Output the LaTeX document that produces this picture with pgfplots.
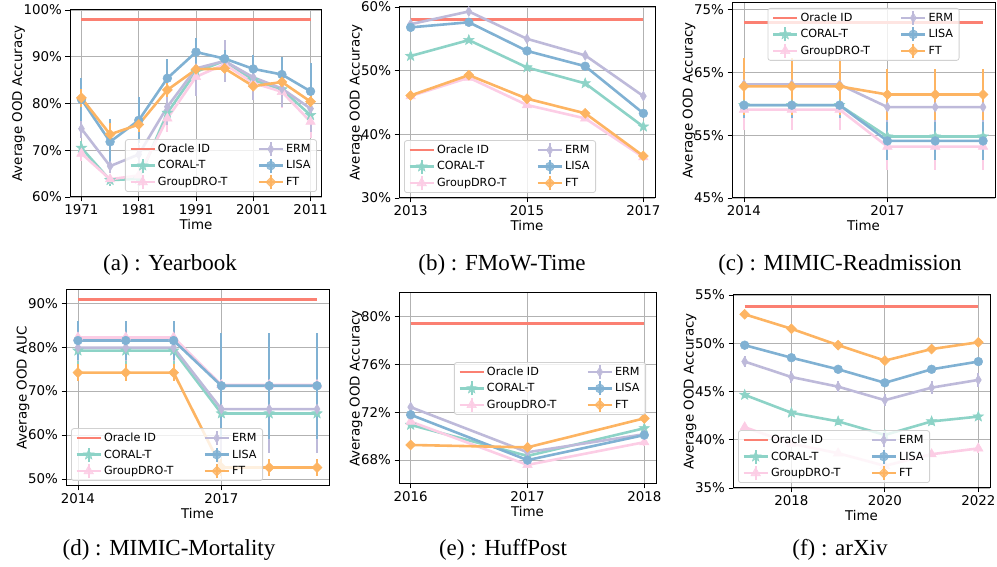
\documentclass[border=0pt]{standalone}
\usepackage{pgfplots}
\pgfplotsset{compat=1.18}
\usepackage{fontspec}
\setmainfont{DejaVu Sans}
\newfontfamily\capfont{Liberation Serif}
\definecolor{cOracle}{HTML}{FB8072}
\definecolor{cCoral}{HTML}{8DD3C7}
\definecolor{cGDRO}{HTML}{FCCDE5}
\definecolor{cERM}{HTML}{BEBADA}
\definecolor{cLISA}{HTML}{80B1D3}
\definecolor{cFT}{HTML}{FDB462}
\newcommand\tickfont{\fontsize{13.4}{16}\selectfont}
\newcommand\legfont{\fontsize{11.2}{13}\selectfont}
\newcommand\capsize{\fontsize{23}{26}\selectfont}
\pgfdeclareplotmark{fstar}{%
  \pgfpathmoveto{\pgfqpointpolar{90}{\pgfplotmarksize}}%
  \pgfpathlineto{\pgfqpointpolar{126}{0.42\pgfplotmarksize}}%
  \pgfpathlineto{\pgfqpointpolar{162}{\pgfplotmarksize}}%
  \pgfpathlineto{\pgfqpointpolar{198}{0.42\pgfplotmarksize}}%
  \pgfpathlineto{\pgfqpointpolar{234}{\pgfplotmarksize}}%
  \pgfpathlineto{\pgfqpointpolar{270}{0.42\pgfplotmarksize}}%
  \pgfpathlineto{\pgfqpointpolar{306}{\pgfplotmarksize}}%
  \pgfpathlineto{\pgfqpointpolar{342}{0.42\pgfplotmarksize}}%
  \pgfpathlineto{\pgfqpointpolar{18}{\pgfplotmarksize}}%
  \pgfpathlineto{\pgfqpointpolar{54}{0.42\pgfplotmarksize}}%
  \pgfpathclose\pgfusepathqfillstroke}
\pgfplotsset{
  errleg/.style={legend image code/.code={
    \draw[##1] (0pt,0pt)--(24pt,0pt);
    \draw[##1, line width=2pt] (12pt,-7pt)--(12pt,7pt);
    \draw[##1, only marks] plot coordinates {(12pt,0pt)};}},
  oracleleg/.style={legend image code/.code={\draw[##1] (0pt,0pt)--(24pt,0pt);}},
  panel/.style={
    scale only axis, anchor=south west,
    axis line style={black, line width=1pt},
    grid=major, major grid style={color=black!30, line width=0.9pt},
    tick align=outside, major tick length=4.5pt, tick style={black, line width=0.9pt},
    tick pos=left,
    ticklabel style={font=\tickfont},
    label style={font=\tickfont},
    xlabel={Time},
    xlabel style={yshift=3pt},
    ylabel shift=-8pt,
    /pgf/number format/1000 sep={},
    /pgf/number format/assume math mode=true,
    yticklabel={\pgfmathprintnumber{\tick}\%},
    legend columns=3, transpose legend, legend cell align=left,
    legend style={font=\legfont, fill=white, fill opacity=0.8, text opacity=1, draw opacity=1,
      draw=black!18, line width=0.8pt, rounded corners=2.5pt, inner xsep=4pt, inner ysep=1.5pt,
      row sep=0.5pt, /tikz/every even column/.append style={column sep=28pt}},
    errleg,
  },
  sOracle/.style={color=cOracle, line width=2.6pt, mark=none, oracleleg},
  sCoral/.style={color=cCoral, line width=2.6pt, mark=fstar, mark size=5.5pt, mark options={solid, fill=cCoral, line width=0.5pt},
    error bars/.cd, y dir=both, y explicit, error mark=none, error bar style={line width=2pt, cCoral}},
  sGDRO/.style={color=cGDRO, line width=2.6pt, mark=triangle*, mark size=5.5pt, mark options={solid, fill=cGDRO, line width=0.5pt},
    error bars/.cd, y dir=both, y explicit, error mark=none, error bar style={line width=2pt, cGDRO}},
  sERM/.style={color=cERM, line width=2.6pt, mark=diamond*, mark size=5pt, mark options={solid, fill=cERM, line width=0.5pt, xscale=0.8},
    error bars/.cd, y dir=both, y explicit, error mark=none, error bar style={line width=2pt, cERM}},
  sLISA/.style={color=cLISA, line width=2.6pt, mark=*, mark size=4.4pt, mark options={solid, fill=cLISA, line width=0.5pt},
    error bars/.cd, y dir=both, y explicit, error mark=none, error bar style={line width=2pt, cLISA}},
  sFT/.style={color=cFT, line width=2.6pt, mark=diamond*, mark size=5pt, mark options={solid, fill=cFT, line width=0.5pt, xscale=1.33},
    error bars/.cd, y dir=both, y explicit, error mark=none, error bar style={line width=2pt, cFT}},
}
\begin{document}
\begin{tikzpicture}[x=1pt,y=1pt]
\useasboundingbox (0,0) rectangle (997,567);
% (a) Yearbook
\begin{axis}[panel, at={(70pt,370pt)}, width=252pt, height=187pt,
  xmin=1969, xmax=2013, ymin=60, ymax=100,
  xtick={1971,1981,1991,2001,2011}, ytick={60,70,80,90,100},
  ylabel={Average OOD Accuracy},
  legend style={at={(1,0)}, anchor=south east, xshift=-5pt, yshift=5pt}]
\addplot[sOracle] coordinates {(1971,98.0) (2011,98.0)};
\addlegendentry{Oracle ID}
\addplot[sCoral] coordinates {(1971,70.5) +- (0,1.5) (1976,63.6) +- (0,1.2) (1981,63.9) +- (0,1.5) (1986,78.0) +- (0,3) (1991,86.8) +- (0,3) (1996,89.1) +- (0,2) (2001,85.0) +- (0,2.5) (2006,83.0) +- (0,2.5) (2011,77.5) +- (0,3)};
\addlegendentry{CORAL-T}
\addplot[sGDRO] coordinates {(1971,69.3) +- (0,1.5) (1976,63.8) +- (0,1.0) (1981,64.6) +- (0,1.5) (1986,76.8) +- (0,3) (1991,85.7) +- (0,4) (1996,88.4) +- (0,3) (2001,84.4) +- (0,3) (2006,82.5) +- (0,3.5) (2011,76.1) +- (0,3.5)};
\addlegendentry{GroupDRO-T}
\addplot[sERM] coordinates {(1971,74.6) +- (0,2) (1976,66.6) +- (0,1.5) (1981,69.1) +- (0,2) (1986,79.3) +- (0,4) (1991,87.5) +- (0,6) (1996,89.1) +- (0,4.5) (2001,85.6) +- (0,4.8) (2006,83.2) +- (0,4) (2011,78.9) +- (0,5)};
\addlegendentry{ERM}
\addplot[sLISA] coordinates {(1971,80.9) +- (0,4.6) (1976,71.8) +- (0,4.8) (1981,76.4) +- (0,4.9) (1986,85.4) +- (0,4.1) (1991,91.0) +- (0,3.1) (1996,89.6) +- (0,1.8) (2001,87.4) +- (0,3.0) (2006,86.2) +- (0,3.8) (2011,82.6) +- (0,6.0)};
\addlegendentry{LISA}
\addplot[sFT] coordinates {(1971,81.2) +- (0,2) (1976,73.4) +- (0,2.5) (1981,75.5) +- (0,1.5) (1986,82.9) +- (0,1.5) (1991,87.3) +- (0,1) (1996,87.5) +- (0,1) (2001,83.7) +- (0,1) (2006,84.6) +- (0,1.5) (2011,80.4) +- (0,1.5)};
\addlegendentry{FT}
\end{axis}
% (b) FMoW-Time
\begin{axis}[panel, at={(399pt,369pt)}, width=256pt, height=191pt,
  xmin=2012.8, xmax=2017.2, ymin=30, ymax=60,
  xtick={2013,2015,2017}, ytick={30,40,50,60},
  ylabel={Average OOD Accuracy},
  legend style={at={(0,0)}, anchor=south west, xshift=5pt, yshift=5pt}]
\addplot[sOracle] coordinates {(2013,58.0) (2017,58.0)};
\addlegendentry{Oracle ID}
\addplot[sCoral] coordinates {(2013,52.3) +- (0,0.2) (2014,54.8) +- (0,0.2) (2015,50.5) +- (0,0.2) (2016,48.0) +- (0,0.2) (2017,41.2) +- (0,0.2)};
\addlegendentry{CORAL-T}
\addplot[sGDRO] coordinates {(2013,46.0) +- (0,0.2) (2014,48.9) +- (0,0.2) (2015,44.6) +- (0,0.2) (2016,42.5) +- (0,0.2) (2017,36.4) +- (0,0.2)};
\addlegendentry{GroupDRO-T}
\addplot[sERM] coordinates {(2013,57.3) +- (0,0.2) (2014,59.3) +- (0,0.2) (2015,55.0) +- (0,0.2) (2016,52.4) +- (0,0.2) (2017,46.0) +- (0,0.2)};
\addlegendentry{ERM}
\addplot[sLISA] coordinates {(2013,56.8) +- (0,0.2) (2014,57.6) +- (0,0.2) (2015,53.1) +- (0,0.2) (2016,50.7) +- (0,0.2) (2017,43.3) +- (0,0.2)};
\addlegendentry{LISA}
\addplot[sFT] coordinates {(2013,46.1) +- (0,0.2) (2014,49.3) +- (0,0.2) (2015,45.6) +- (0,0.2) (2016,43.3) +- (0,0.2) (2017,36.6) +- (0,0.2)};
\addlegendentry{FT}
\end{axis}
% (c) MIMIC-Readmission
\begin{axis}[panel, at={(732pt,369pt)}, width=263pt, height=195pt,
  xmin=2013.75, xmax=2019.25, ymin=45, ymax=76.1,
  xtick={2014,2017}, ytick={45,55,65,75},
  ylabel={Average OOD Accuracy},
  legend style={at={(0.5,1)}, anchor=north, yshift=-5pt}]
\addplot[sOracle] coordinates {(2014,73.0) (2019,73.0)};
\addlegendentry{Oracle ID}
\addplot[sCoral] coordinates {(2014,59.8) +- (0,2) (2015,59.8) +- (0,2) (2016,59.8) +- (0,2) (2017,54.8) +- (0,2) (2018,54.8) +- (0,2) (2019,54.8) +- (0,2)};
\addlegendentry{CORAL-T}
\addplot[sGDRO] coordinates {(2014,59.1) +- (0,3.3) (2015,59.1) +- (0,3.3) (2016,59.1) +- (0,3.3) (2017,53.2) +- (0,3.7) (2018,53.2) +- (0,3.7) (2019,53.2) +- (0,3.7)};
\addlegendentry{GroupDRO-T}
\addplot[sERM] coordinates {(2014,63.1) +- (0,3) (2015,63.1) +- (0,3) (2016,63.1) +- (0,3) (2017,59.5) +- (0,3.2) (2018,59.5) +- (0,3.2) (2019,59.5) +- (0,3.2)};
\addlegendentry{ERM}
\addplot[sLISA] coordinates {(2014,59.8) +- (0,2) (2015,59.8) +- (0,2) (2016,59.8) +- (0,2) (2017,54.1) +- (0,3) (2018,54.1) +- (0,3) (2019,54.1) +- (0,3)};
\addlegendentry{LISA}
\addplot[sFT] coordinates {(2014,62.8) +- (0,4.6) (2015,62.8) +- (0,4.6) (2016,62.8) +- (0,4.6) (2017,61.5) +- (0,4.0) (2018,61.5) +- (0,4.0) (2019,61.5) +- (0,4.0)};
\addlegendentry{FT}
\end{axis}
% (d) MIMIC-Mortality
\begin{axis}[panel, at={(66pt,81pt)}, width=263pt, height=196pt,
  xmin=2013.75, xmax=2019.25, ymin=48.4, ymax=93,
  xtick={2014,2017}, ytick={50,60,70,80,90},
  ylabel={Average OOD AUC},
  legend style={at={(0,0)}, anchor=south west, xshift=5pt, yshift=5pt}]
\addplot[sOracle] coordinates {(2014,90.8) (2019,90.8)};
\addlegendentry{Oracle ID}
\addplot[sCoral] coordinates {(2014,79.2) +- (0,3) (2015,79.2) +- (0,3) (2016,79.2) +- (0,3) (2017,64.9) +- (0,9) (2018,64.9) +- (0,9) (2019,64.9) +- (0,9)};
\addlegendentry{CORAL-T}
\addplot[sGDRO] coordinates {(2014,82.2) +- (0,3.5) (2015,82.2) +- (0,3.5) (2016,82.2) +- (0,3.5) (2017,71.4) +- (0,10) (2018,71.4) +- (0,10) (2019,71.4) +- (0,10)};
\addlegendentry{GroupDRO-T}
\addplot[sERM] coordinates {(2014,79.9) +- (0,3) (2015,79.9) +- (0,3) (2016,79.9) +- (0,3) (2017,65.9) +- (0,10) (2018,65.9) +- (0,10) (2019,65.9) +- (0,10)};
\addlegendentry{ERM}
\addplot[sLISA] coordinates {(2014,81.5) +- (0,4.4) (2015,81.5) +- (0,4.4) (2016,81.5) +- (0,4.4) (2017,71.2) +- (0,12) (2018,71.2) +- (0,12) (2019,71.2) +- (0,12)};
\addlegendentry{LISA}
\addplot[sFT] coordinates {(2014,74.2) +- (0,2) (2015,74.2) +- (0,2) (2016,74.2) +- (0,2) (2017,52.6) +- (0,2) (2018,52.6) +- (0,2) (2019,52.6) +- (0,2)};
\addlegendentry{FT}
\end{axis}
% (e) HuffPost
\begin{axis}[panel, at={(399pt,83pt)}, width=257pt, height=191pt,
  xmin=2015.9, xmax=2018.1, ymin=66, ymax=82,
  xtick={2016,2017,2018}, ytick={68,72,76,80},
  ylabel={Average OOD Accuracy},
  legend style={at={(1,0.5)}, anchor=east, xshift=-10pt}]
\addplot[sOracle] coordinates {(2016,79.44) (2018,79.44)};
\addlegendentry{Oracle ID}
\addplot[sCoral] coordinates {(2016,70.95) +- (0,0.3) (2017,68.35) +- (0,0.3) (2018,70.67) +- (0,0.3)};
\addlegendentry{CORAL-T}
\addplot[sGDRO] coordinates {(2016,71.23) +- (0,0.3) (2017,67.6) +- (0,0.3) (2018,69.5) +- (0,0.3)};
\addlegendentry{GroupDRO-T}
\addplot[sERM] coordinates {(2016,72.44) +- (0,0.3) (2017,68.66) +- (0,0.3) (2018,70.17) +- (0,0.7)};
\addlegendentry{ERM}
\addplot[sLISA] coordinates {(2016,71.8) +- (0,0.3) (2017,68.0) +- (0,0.3) (2018,70.1) +- (0,0.3)};
\addlegendentry{LISA}
\addplot[sFT] coordinates {(2016,69.27) +- (0,0.3) (2017,69.07) +- (0,0.4) (2018,71.5) +- (0,0.4)};
\addlegendentry{FT}
\end{axis}
% (f) arXiv
\begin{axis}[panel, at={(733pt,79pt)}, width=257pt, height=193pt,
  xmin=2016.75, xmax=2022.25, ymin=35, ymax=55,
  xtick={2018,2020,2022}, ytick={35,40,45,50,55},
  ylabel={Average OOD Accuracy},
  legend style={at={(0,0)}, anchor=south west, xshift=5pt, yshift=5pt}]
\addplot[sOracle] coordinates {(2017,53.8) (2022,53.8)};
\addlegendentry{Oracle ID}
\addplot[sCoral] coordinates {(2017,44.65) +- (0,0.3) (2018,42.8) +- (0,0.3) (2019,41.9) +- (0,0.4) (2020,40.5) +- (0,0.3) (2021,41.9) +- (0,0.4) (2022,42.4) +- (0,0.4)};
\addlegendentry{CORAL-T}
\addplot[sGDRO] coordinates {(2017,41.3) +- (0,0.3) (2018,39.6) +- (0,0.3) (2019,38.6) +- (0,0.3) (2020,37.3) +- (0,0.3) (2021,38.5) +- (0,0.3) (2022,39.1) +- (0,0.5)};
\addlegendentry{GroupDRO-T}
\addplot[sERM] coordinates {(2017,48.1) +- (0,0.6) (2018,46.5) +- (0,0.6) (2019,45.5) +- (0,0.6) (2020,44.1) +- (0,0.6) (2021,45.4) +- (0,0.7) (2022,46.2) +- (0,0.7)};
\addlegendentry{ERM}
\addplot[sLISA] coordinates {(2017,49.8) +- (0,0.3) (2018,48.5) +- (0,0.3) (2019,47.3) +- (0,0.3) (2020,45.9) +- (0,0.3) (2021,47.3) +- (0,0.3) (2022,48.1) +- (0,0.3)};
\addlegendentry{LISA}
\addplot[sFT] coordinates {(2017,53.0) +- (0,0.3) (2018,51.5) +- (0,0.3) (2019,49.8) +- (0,0.3) (2020,48.2) +- (0,0.3) (2021,49.4) +- (0,0.3) (2022,50.1) +- (0,0.3)};
\addlegendentry{FT}
\end{axis}
% captions
\node[font=\capfont\capsize, anchor=base] at (170,296) {(a) : Yearbook};
\node[font=\capfont\capsize, anchor=base] at (502,296) {(b) : FMoW-Time};
\node[font=\capfont\capsize, anchor=base] at (840,296) {(c) : MIMIC-Readmission};
\node[font=\capfont\capsize, anchor=base] at (169,11) {(d) : MIMIC-Mortality};
\node[font=\capfont\capsize, anchor=base] at (503,11) {(e) : HuffPost};
\node[font=\capfont\capsize, anchor=base] at (840,11) {(f) : arXiv};
\end{tikzpicture}
\end{document}
